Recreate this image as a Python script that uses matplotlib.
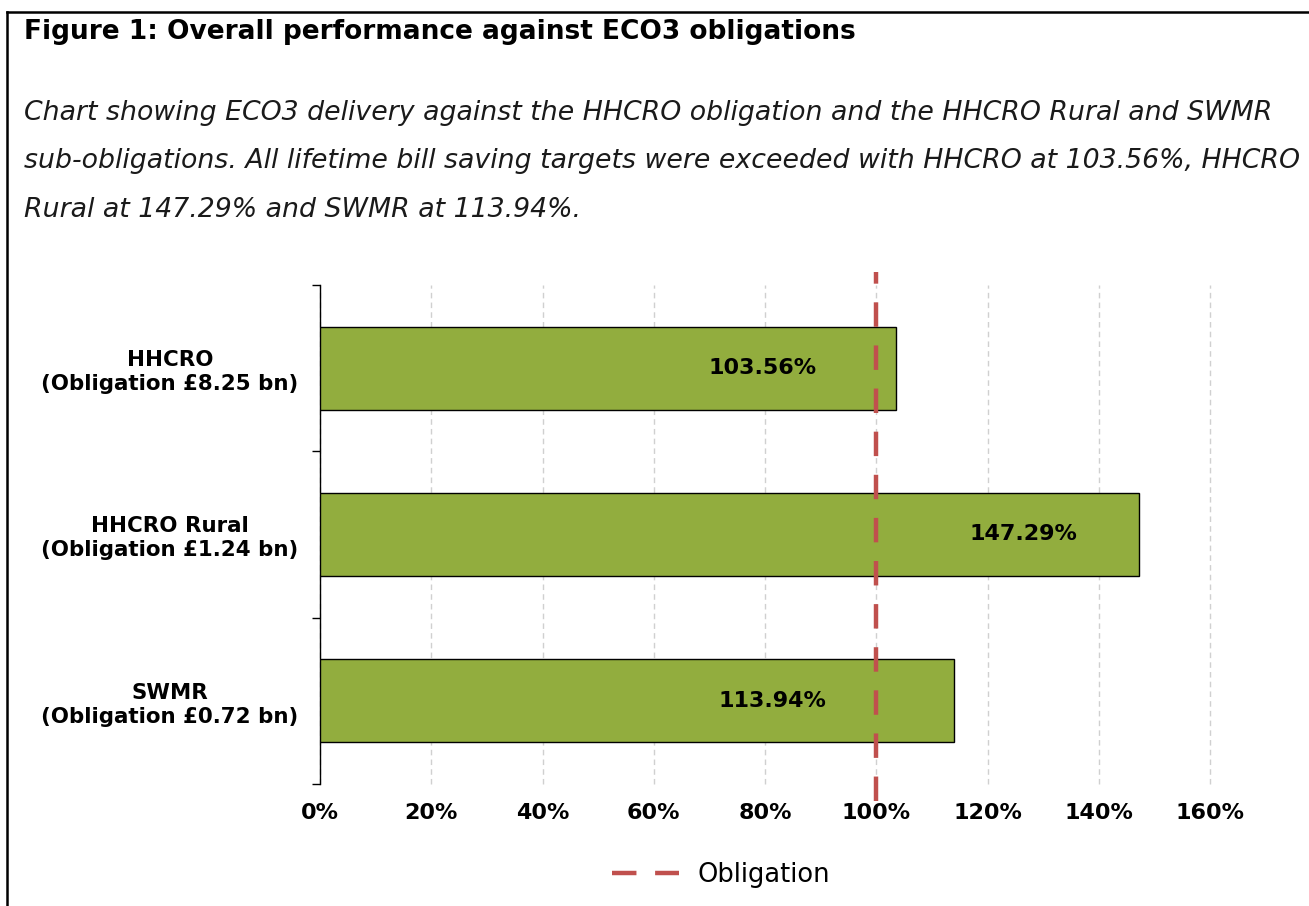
import matplotlib
matplotlib.use("Agg")
import matplotlib.pyplot as plt
from matplotlib.lines import Line2D
from matplotlib.ticker import FixedLocator, FuncFormatter

categories = ["HHCRO\n(Obligation £8.25 bn)",
              "HHCRO Rural\n(Obligation £1.24 bn)",
              "SWMR\n(Obligation £0.72 bn)"]
values = [103.56, 147.29, 113.94]
value_labels = ["103.56%", "147.29%", "113.94%"]
label_x = [79.6, 126.4, 81.4]
obligation = 100
xticks = [0, 20, 40, 60, 80, 100, 120, 140, 160]

title = "Figure 1: Overall performance against ECO3 obligations"
subtitle_lines = [
    "Chart showing ECO3 delivery against the HHCRO obligation and the HHCRO Rural and SWMR",
    "sub-obligations. All lifetime bill saving targets were exceeded with HHCRO at 103.56%, HHCRO",
    "Rural at 147.29% and SWMR at 113.94%.",
]

BAR = "#92AD3E"
RED = "#C0504D"

fig = plt.figure(figsize=(13.09, 9.06), dpi=100)
W, H = 1309, 906

# border lines (top and left)
fig.add_artist(Line2D([6.5 / W, 1.0], [1 - 11.5 / H, 1 - 11.5 / H], color="black", lw=1.8))
fig.add_artist(Line2D([6.5 / W, 6.5 / W], [1 - 11.5 / H, 0], color="black", lw=1.8))

fig.text(24 / W, 1 - 32 / H, title, fontsize=19, fontweight="bold", va="center", ha="left")
for i, line in enumerate(subtitle_lines):
    fig.text(24 / W, 1 - (113 + 48.5 * i) / H, line, fontsize=19.3, style="italic",
             va="center", ha="left", color="#1a1a1a")

ax = fig.add_axes([320 / W, 1 - 784 / H, (1210 - 320) / W, (784 - 285) / H])
ypos = list(range(len(categories)))[::-1]
ax.barh(ypos, values, height=0.5, color=BAR, edgecolor="black", linewidth=1.0, zorder=3)
for y, lx, lab in zip(ypos, label_x, value_labels):
    ax.text(lx, y, lab, ha="center", va="center", fontsize=16, fontweight="bold", zorder=5)

ax.set_xlim(0, 160)
ax.set_ylim(-0.5, 2.5)
ax.xaxis.set_major_locator(FixedLocator(xticks))
ax.xaxis.set_major_formatter(FuncFormatter(lambda v, p: f"{v:.0f}%"))
ax.tick_params(axis="x", length=0, pad=14, labelsize=16)
for lab in ax.get_xticklabels():
    lab.set_fontweight("bold")

ax.set_yticks(ypos)
ax.set_yticklabels(categories, fontsize=15.4, fontweight="bold", ha="center", linespacing=1.25)
ax.tick_params(axis="y", which="major", length=0, pad=108)
ax.yaxis.set_minor_locator(FixedLocator([-0.5, 0.5, 1.5, 2.5]))
ax.tick_params(axis="y", which="minor", length=6, width=1.0, direction="out")

for s in ["top", "right", "bottom"]:
    ax.spines[s].set_visible(False)
ax.spines["left"].set_linewidth(1.0)

ax.grid(axis="x", color="#D0D0D0", linestyle=(0, (4, 3)), linewidth=1.0, zorder=0)
ax.set_axisbelow(True)
for gl in ax.xaxis.get_gridlines():
    gl.set_clip_on(False)

ax.plot([obligation, obligation], [-0.6, 2.58], color=RED, lw=3.2,
        linestyle=(0, (5.5, 4.2)), clip_on=False, zorder=4, label="Obligation")

leg = fig.legend(handles=[Line2D([], [], color=RED, lw=3.2, linestyle=(0, (5.5, 4.2)))],
                 labels=["Obligation"], loc="center", bbox_to_anchor=(721 / W, 1 - 875 / H),
                 frameon=False, fontsize=18.5, handlelength=2.6, handletextpad=0.7)

fig.savefig("out.png", dpi=100, facecolor="white")
